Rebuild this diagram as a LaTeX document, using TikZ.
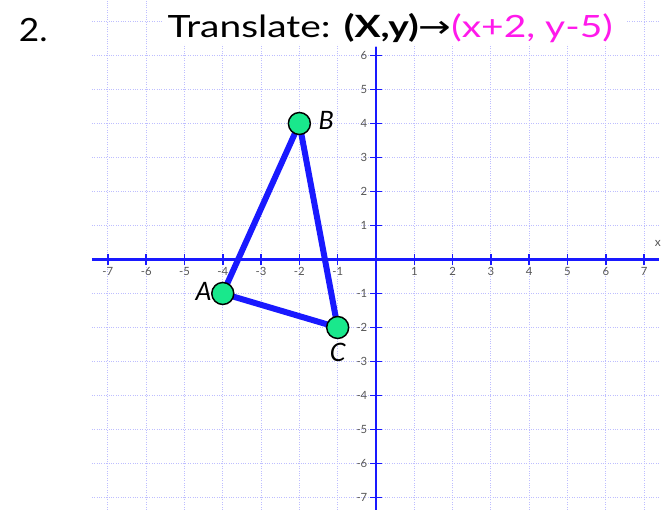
\documentclass[tikz,border=0pt]{standalone}
\usepackage{fontspec}
\setmainfont{Lato}
\newfontfamily\arrowfont{DejaVu Sans}
\definecolor{gridc}{RGB}{190,190,255}
\definecolor{axisc}{RGB}{25,25,255}
\definecolor{ptgreen}{RGB}{25,232,140}
\definecolor{mag}{RGB}{255,25,235}
\definecolor{ticklab}{RGB}{85,85,85}
\tikzset{
  gridline/.style={gridc, line width=0.8pt, densely dotted},
  axisline/.style={axisc, line width=1.8pt},
  tickmark/.style={axisc, line width=1.1pt},
  ticklabel/.style={ticklab, font=\fontsize{8.5}{9}\selectfont, inner sep=0pt},
  triside/.style={axisc, line width=4.5pt, line join=round},
  ptdot/.style={circle, draw=black, line width=1.1pt, fill=ptgreen, minimum size=16.5pt, inner sep=0pt},
  ptlabel/.style={font=\fontsize{19}{21}\selectfont\itshape, inner sep=0pt}
}
\begin{document}
\begin{tikzpicture}[x=28.725pt,y=25.5pt]
\useasboundingbox (-9.817,-7.368) rectangle (7.598,7.632);
% grid
\foreach \i in {-7,...,7} {
  \draw[gridline] (\i,-7.37) -- (\i,7.6);
  \draw[gridline] (-7.42,\i) -- (7.4,\i);
}
% title background
\fill[white] (-5.55,6.33) rectangle (6.55,7.632);
% axes
\draw[axisline] (-7.42,0) -- (7.4,0);
\draw[axisline] (0,-7.37) -- (0,6.25);
\node[ticklab, font=\fontsize{9}{10}\selectfont] (xlab) at (7.36,0.48) {x};
% ticks
\foreach \i in {-7,...,-1,1,2,...,7} {
  \draw[tickmark] (\i,-0.17) -- (\i,0.17);
  \node[ticklabel] (xt\i) at (\i,-0.36) {\i};
}
\foreach \i in {-7,...,-1,1,2,...,6} {
  \draw[tickmark] (-0.16,\i) -- (0.16,\i);
  \node[ticklabel, anchor=east] (yt\i) at (-0.22,\i) {\i};
}
% title
\node[font=\fontsize{24}{26}\selectfont, inner sep=0pt] (num) at (-8.95,6.75) {\scalebox{1.1}[1]{2.}};
\node[font=\fontsize{23}{26}\selectfont, inner sep=0pt] (title) at (0.37,6.8)
  {\scalebox{1.27}[1]{Translate: \textbf{(X,y)}{\arrowfont →}\textcolor{mag}{(x+2, y-5)}}};
% triangle
\coordinate (A) at (-4,-1);
\coordinate (B) at (-2,4);
\coordinate (C) at (-1,-2);
\draw[triside] (A) -- (B) -- (C) -- cycle;
\node[ptdot] (pA) at (A) {};
\node[ptdot] (pB) at (B) {};
\node[ptdot] (pC) at (C) {};
\node[ptlabel] (lA) at (-4.5,-0.95) {A};
\node[ptlabel] (lB) at (-1.3,4.08) {B};
\node[ptlabel] (lC) at (-1.0,-2.72) {C};
\end{tikzpicture}
\end{document}
